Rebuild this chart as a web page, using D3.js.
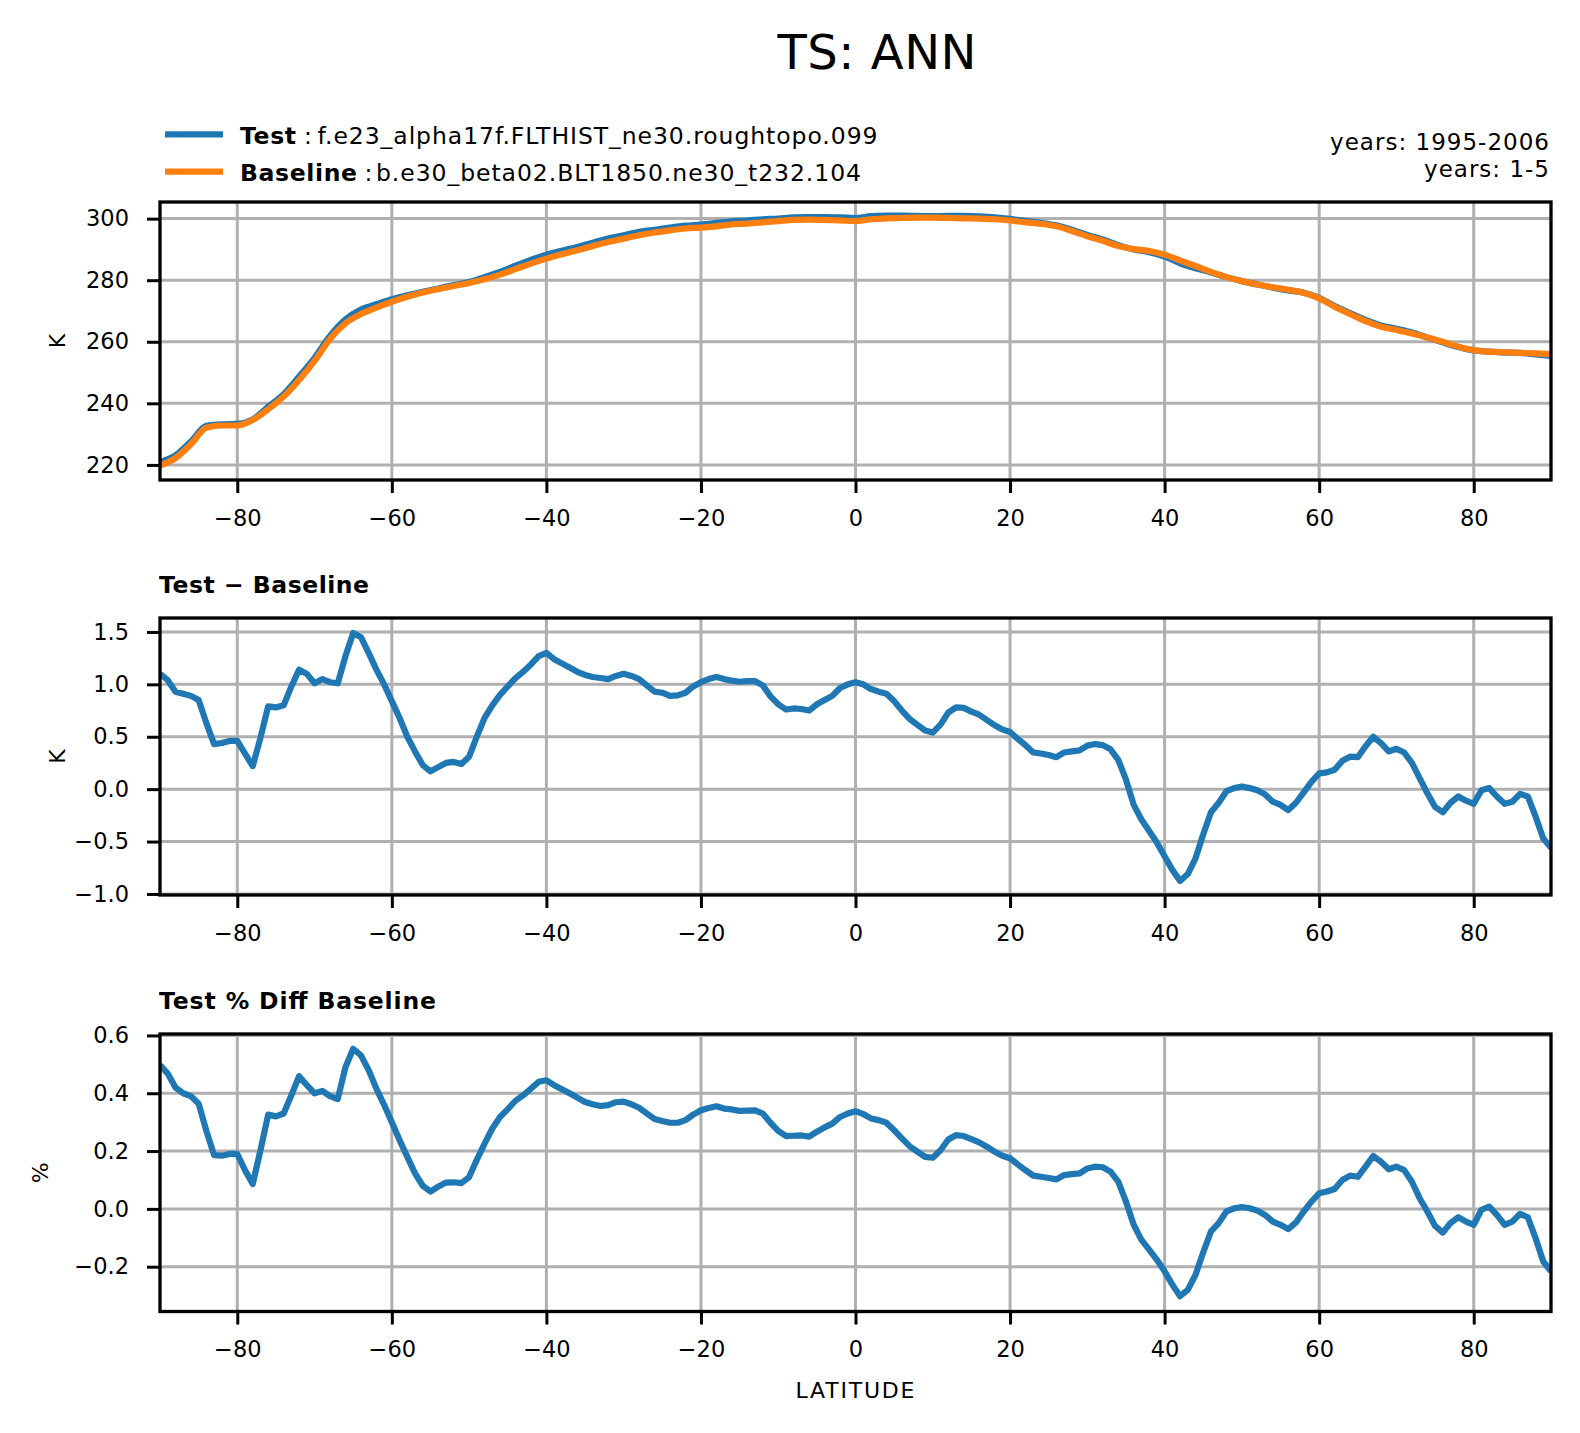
<!DOCTYPE html>
<html><head><meta charset="utf-8">
<script src="https://cdn.jsdelivr.net/npm/d3@7/dist/d3.min.js"></script>
<style>body{margin:0;background:#fff}svg{display:block}text{font-family:"DejaVu Sans",sans-serif}</style>
</head><body><div id="chart"></div>
<script>
// ---- data ----
const latTop = d3.range(-90, 91, 2);          // latitude grid of panel 1 (deg)
const baselineTS = [219.8,222.2,226.7,232.1,232.8,232.8,234.6,238.1,242.2,247.6,253.8,260.9,266.0,269.0,271.1,273.0,274.6,276.0,277.1,278.1,279.1,280.3,281.8,283.6,285.4,287.0,288.4,289.7,291.1,292.4,293.5,294.6,295.5,296.2,296.8,297.1,297.5,298.1,298.4,298.8,299.2,299.6,299.7,299.6,299.4,299.2,299.8,300.1,300.2,300.3,300.3,300.2,300.1,300.0,299.8,299.4,298.8,298.3,297.5,296.0,294.3,292.8,291.1,290.1,289.5,288.3,286.4,284.6,282.7,281.0,279.7,278.6,277.7,276.9,275.9,274.1,271.4,269.0,266.7,264.9,263.8,262.7,261.4,260.0,258.4,257.3,256.8,256.6,256.4,256.2,256.0];
const testTS = [220.9,223.1,227.6,232.7,233.2,233.3,234.8,238.9,243.0,248.7,254.8,261.9,267.3,270.5,272.2,273.8,275.1,276.2,277.3,278.4,279.4,281.0,282.7,284.7,286.6,288.3,289.6,290.8,292.2,293.5,294.6,295.7,296.4,297.1,297.7,298.1,298.6,299.1,299.4,299.8,300.0,300.4,300.5,300.5,300.4,300.2,300.8,301.0,301.0,300.9,300.8,300.9,300.9,300.7,300.4,299.9,299.2,298.6,297.8,296.4,294.7,293.2,291.4,290.0,289.1,287.7,285.5,283.9,282.5,281.0,279.7,278.6,277.6,276.7,275.9,274.3,271.6,269.3,267.1,265.3,264.2,263.0,261.4,259.8,258.3,257.2,256.8,256.5,256.4,255.9,255.4];

const latFine = d3.range(-90, 91, 1);         // latitude grid of panels 2 and 3 (deg)
const diffK = [1.10,1.04,0.93,0.91,0.89,0.85,0.63,0.43,0.44,0.46,0.46,0.34,0.22,0.49,0.79,0.78,0.80,0.98,1.14,1.10,1.01,1.05,1.02,1.01,1.27,1.49,1.45,1.30,1.14,1.00,0.84,0.68,0.50,0.36,0.23,0.17,0.21,0.25,0.26,0.24,0.31,0.50,0.68,0.80,0.90,0.98,1.06,1.12,1.19,1.27,1.30,1.24,1.20,1.16,1.12,1.09,1.07,1.06,1.05,1.08,1.10,1.08,1.05,0.99,0.93,0.92,0.89,0.895,0.92,0.98,1.02,1.05,1.07,1.05,1.035,1.025,1.03,1.03,0.99,0.885,0.81,0.76,0.77,0.765,0.75,0.81,0.85,0.89,0.965,1.00,1.02,1.00,0.955,0.93,0.91,0.84,0.75,0.67,0.615,0.56,0.54,0.615,0.73,0.78,0.775,0.74,0.71,0.66,0.61,0.57,0.545,0.48,0.42,0.35,0.34,0.325,0.305,0.35,0.36,0.37,0.415,0.43,0.42,0.38,0.28,0.09,-0.15,-0.29,-0.40,-0.51,-0.64,-0.77,-0.875,-0.81,-0.66,-0.43,-0.22,-0.13,-0.02,0.01,0.025,0.01,-0.01,-0.05,-0.12,-0.15,-0.20,-0.13,-0.03,0.07,0.15,0.16,0.185,0.27,0.31,0.305,0.41,0.50,0.44,0.36,0.385,0.35,0.25,0.105,-0.04,-0.17,-0.22,-0.13,-0.07,-0.11,-0.14,-0.01,0.01,-0.07,-0.14,-0.12,-0.045,-0.07,-0.26,-0.47,-0.56];
const pctDiff = [0.497,0.468,0.42,0.40,0.39,0.364,0.27,0.186,0.184,0.19,0.19,0.134,0.086,0.203,0.326,0.32,0.33,0.393,0.459,0.428,0.40,0.408,0.39,0.38,0.49,0.554,0.531,0.48,0.416,0.36,0.30,0.238,0.18,0.123,0.08,0.06,0.077,0.091,0.092,0.089,0.11,0.17,0.226,0.278,0.318,0.345,0.374,0.393,0.416,0.44,0.445,0.428,0.414,0.40,0.385,0.37,0.362,0.356,0.359,0.369,0.371,0.362,0.35,0.33,0.311,0.304,0.298,0.298,0.307,0.326,0.341,0.349,0.355,0.347,0.344,0.339,0.34,0.341,0.33,0.298,0.27,0.252,0.253,0.254,0.25,0.267,0.282,0.295,0.318,0.33,0.338,0.328,0.313,0.307,0.298,0.272,0.244,0.217,0.198,0.18,0.177,0.203,0.24,0.255,0.252,0.241,0.23,0.215,0.198,0.184,0.175,0.154,0.134,0.115,0.111,0.107,0.102,0.117,0.12,0.123,0.14,0.146,0.144,0.129,0.094,0.025,-0.055,-0.107,-0.141,-0.176,-0.216,-0.262,-0.302,-0.28,-0.228,-0.15,-0.078,-0.049,-0.009,0.002,0.006,0.002,-0.006,-0.021,-0.044,-0.055,-0.07,-0.047,-0.009,0.025,0.054,0.06,0.069,0.10,0.115,0.111,0.146,0.183,0.163,0.137,0.146,0.134,0.094,0.037,-0.009,-0.059,-0.082,-0.049,-0.029,-0.044,-0.055,-0.003,0.008,-0.021,-0.055,-0.044,-0.017,-0.029,-0.101,-0.182,-0.216];

const xTicks = [-80,-60,-40,-20,0,20,40,60,80];
const yTicksTop = [220,240,260,280,300];
const yTicksDiff = [-1.0,-0.5,0.0,0.5,1.0,1.5];
const yTicksPct = [-0.2,0.0,0.2,0.4,0.6];

const titleText = "TS: ANN";
const testName = "f.e23_alpha17f.FLTHIST_ne30.roughtopo.099";
const baseName = "b.e30_beta02.BLT1850.ne30_t232.104";
const testYears = "years: 1995-2006";
const baseYears = "years: 1-5";

// ---- drawing ----
const W = 1580, H = 1433;
const C_TEST = "#1f77b4", C_BASE = "#ff7f0e";
const svg = d3.select("#chart").append("svg").attr("width", W).attr("height", H);
svg.append("rect").attr("width", W).attr("height", H).attr("fill", "#fff");

const x = d3.scaleLinear().domain([-90, 90]).range([160, 1551]);

const panels = [
  {top: 202, bottom: 480, domain: [215.1, 305.4], ticks: yTicksTop, fmt: d3.format("d"), ylabel: "K", ylx: 57.5,
   series: [{lat: latTop, v: testTS, c: C_TEST}, {lat: latTop, v: baselineTS, c: C_BASE}]},
  {top: 618, bottom: 895, domain: [-1.01, 1.633], ticks: yTicksDiff, fmt: d3.format(".1f"), ylabel: "K", ylx: 57.5,
   title: "Test \u2212 Baseline", titleW: 210, series: [{lat: latFine, v: diffK, c: C_TEST}]},
  {top: 1034, bottom: 1311.5, domain: [-0.355, 0.605], ticks: yTicksPct, fmt: d3.format(".1f"), ylabel: "%", ylx: 40,
   title: "Test % Diff Baseline", titleW: 277, series: [{lat: latFine, v: pctDiff, c: C_TEST}]}
];

panels.forEach((p, i) => {
  const y = d3.scaleLinear().domain(p.domain).range([p.bottom, p.top]);
  const g = svg.append("g");
  const clipId = "clip" + i;
  svg.append("clipPath").attr("id", clipId).append("rect")
    .attr("x", 160).attr("y", p.top).attr("width", 1391).attr("height", p.bottom - p.top);

  // grid
  g.append("g").selectAll("line").data(xTicks).join("line")
    .attr("x1", d => x(d)).attr("x2", d => x(d)).attr("y1", p.top).attr("y2", p.bottom)
    .attr("stroke", "#b0b0b0").attr("stroke-width", 3);
  g.append("g").selectAll("line").data(p.ticks).join("line")
    .attr("x1", 160).attr("x2", 1551).attr("y1", d => y(d)).attr("y2", d => y(d))
    .attr("stroke", "#b0b0b0").attr("stroke-width", 3);

  // lines
  p.series.forEach(s => {
    const line = d3.line().curve(d3.curveMonotoneX).x((d, k) => x(s.lat[k])).y(d => y(d));
    if (s.lat !== latTop) line.curve(d3.curveLinear);
    g.append("path").datum(s.v).attr("d", line).attr("fill", "none")
      .attr("stroke", s.c).attr("stroke-width", 6.2).attr("stroke-linejoin", "round")
      .attr("clip-path", `url(#${clipId})`);
  });

  // spines
  g.append("rect").attr("x", 160).attr("y", p.top).attr("width", 1391).attr("height", p.bottom - p.top)
    .attr("fill", "none").attr("stroke", "#000").attr("stroke-width", 3.3);

  // axes
  const ax = g.append("g").attr("transform", `translate(0,${p.bottom})`)
    .call(d3.axisBottom(x).tickValues(xTicks).tickSize(13).tickPadding(17));
  const ay = g.append("g").attr("transform", "translate(160,0)")
    .call(d3.axisLeft(y).tickValues(p.ticks).tickFormat(p.fmt).tickSize(13).tickPadding(18));
  [ax, ay].forEach(a => {
    a.select(".domain").remove();
    a.selectAll(".tick line").attr("stroke", "#000").attr("stroke-width", 3);
    a.selectAll(".tick text").attr("fill", "#000").attr("font-size", 22.5)
      .style("font-family", '"DejaVu Sans", sans-serif');
  });

  // y label
  svg.append("text").attr("transform", `translate(${p.ylx},${(p.top + p.bottom) / 2}) rotate(-90)`)
    .attr("text-anchor", "middle").attr("dominant-baseline", "central")
    .attr("font-size", 22).text(p.ylabel);

  if (p.title) {
    svg.append("text").attr("x", 159).attr("y", p.top - 25).attr("font-size", 23.5)
      .attr("font-weight", "bold").attr("textLength", p.titleW).attr("lengthAdjust", "spacing").text(p.title);
  }
});

// title
svg.append("text").attr("x", 877).attr("y", 69).attr("text-anchor", "middle")
  .attr("font-size", 48).attr("textLength", 199).attr("lengthAdjust", "spacing").text(titleText);

// legend
const legend = [{name: "Test", desc: testName, c: C_TEST, y: 134.3, by: 144, nameW: 56, colonX: 304, descX: 317.5, descW: 560},
                {name: "Baseline", desc: baseName, c: C_BASE, y: 171.7, by: 181, nameW: 117, colonX: 364.5, descX: 376, descW: 485}];
legend.forEach(l => {
  svg.append("line").attr("x1", 165).attr("x2", 223).attr("y1", l.y).attr("y2", l.y)
    .attr("stroke", l.c).attr("stroke-width", 6.2);
  svg.append("text").attr("x", 240).attr("y", l.by).attr("font-size", 23.5).attr("font-weight", "bold")
    .attr("textLength", l.nameW).attr("lengthAdjust", "spacing").text(l.name);
  svg.append("text").attr("x", l.colonX).attr("y", l.by).attr("font-size", 23.5).text(":");
  svg.append("text").attr("x", l.descX).attr("y", l.by).attr("font-size", 23.5)
    .attr("textLength", l.descW).attr("lengthAdjust", "spacing").text(l.desc);
});

// years
svg.append("text").attr("x", 1330).attr("y", 150).attr("font-size", 23)
  .attr("textLength", 219).attr("lengthAdjust", "spacing").text(testYears);
svg.append("text").attr("x", 1424).attr("y", 177).attr("font-size", 23)
  .attr("textLength", 125).attr("lengthAdjust", "spacing").text(baseYears);

// x label
svg.append("text").attr("x", 795.5).attr("y", 1398).attr("font-size", 22)
  .attr("textLength", 119).attr("lengthAdjust", "spacing").text("LATITUDE");
</script></body></html>
